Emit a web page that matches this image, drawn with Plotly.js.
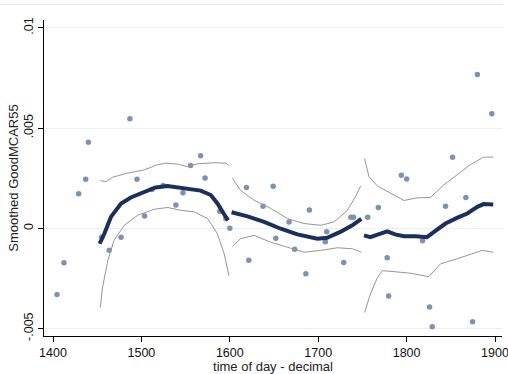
<!DOCTYPE html>
<html>
<head>
<meta charset="utf-8">
<script src="https://cdn.plot.ly/plotly-3.0.1.min.js"></script>
<style>html,body{margin:0;padding:0;background:#fff;}#chart{width:508px;height:374px;}</style>
</head>
<body>
<div id="chart"></div>
<script>
// Observed points (time of day, value)
const obsTime = [1404.5,1412.4,1429,1437,1440,1455,1463.6,1477,1487,1495,1503.6,1512,1524.7,1539,1547,1555.6,1567,1572,1588.7,1595.5,1600,1618.8,1621.5,1637.6,1649,1652,1667,1673.4,1686,1690,1708,1709.6,1728.8,1737,1740,1756,1768,1778,1779.7,1794,1800,1818,1826,1829,1844,1852,1867,1874.6,1880,1896.4];
const obsValue = [-0.0033,-0.00172,0.00172,0.00245,0.00429,-0.00044,-0.00109,-0.00044,0.00546,0.00245,0.00062,0.00194,0.00214,0.00116,0.00178,0.00313,0.00362,0.00251,0.00085,0.00049,0.0,0.00203,-0.00159,0.0011,0.0021,-0.00049,0.00032,-0.00104,-0.00226,0.00092,-0.00067,-0.00017,-0.00171,0.00055,0.00055,0.00055,0.00104,-0.00147,-0.00337,0.00265,0.00246,-0.00062,-0.00392,-0.00491,0.0011,0.00355,0.00154,-0.00466,0.00767,0.00571];

// Segment 1 smoothed fit and CI
const fit1Time = [1452.7,1458,1465.5,1477,1488,1503,1516,1529.6,1548,1567,1578.5,1586,1593,1598];
const fit1Value = [-0.00077,-0.00027,0.00057,0.00124,0.00154,0.00182,0.00204,0.00211,0.002,0.00188,0.00166,0.00124,0.00074,0.0004];
const hi1Time = [1453.5,1460,1467.4,1484,1503,1518,1527.7,1541,1552,1563.5,1582,1595.5,1599];
const hi1Value = [0.00238,0.00233,0.00255,0.00275,0.00291,0.00317,0.00325,0.0032,0.00308,0.00322,0.00327,0.00325,0.00313];
const lo1Time = [1453.5,1456,1462,1469,1480.6,1495.7,1514.5,1529.6,1544.6,1559.7,1574.8,1586,1593.6,1599];
const lo1Value = [-0.00395,-0.00295,-0.00161,-0.0006,0.00015,0.00065,0.00095,0.00104,0.0009,0.00082,0.00049,-0.00027,-0.00127,-0.00236];

// Segment 2
const fit2Time = [1602,1620,1638.8,1657.6,1676.5,1699,1710,1725,1738.6,1748.8];
const fit2Value = [0.0008,0.0006,0.00032,-0.00002,-0.0003,-0.00052,-0.00047,-0.00018,0.00015,0.00047];
const hi2Time = [1603,1612,1627.5,1646,1665,1684,1703,1718,1733,1742,1748];
const hi2Value = [0.0025,0.0019,0.0014,0.001,0.00049,0.00024,0.00015,0.00032,0.0009,0.00157,0.00211];
const lo2Time = [1603,1612,1627.5,1646,1665,1684,1703,1721.7,1738.6,1748.8];
const lo2Value = [-0.0009,-0.00052,-0.00035,-0.00069,-0.00094,-0.00119,-0.0011,-0.00097,-0.00102,-0.00119];

// Segment 3
const fit3Time = [1751.8,1759,1768,1778,1787,1797,1810,1823,1831,1844,1857,1868.6,1880,1887,1898];
const fit3Value = [-0.00035,-0.00044,-0.0003,-0.00015,-0.0003,-0.00039,-0.0004,-0.00044,-0.00018,0.00024,0.00052,0.00074,0.00107,0.00121,0.00119];
const hi3Time = [1752.5,1757.4,1767,1782,1797,1812,1827,1842,1857,1872,1887,1898];
const hi3Value = [0.00347,0.00258,0.00211,0.00174,0.00139,0.00152,0.00154,0.00216,0.00266,0.00317,0.00355,0.00355];
const lo3Time = [1752.5,1759,1767,1772.5,1785.7,1804.5,1825,1838.4,1857,1872,1885.5,1898];
const lo3Value = [-0.0042,-0.00328,-0.00245,-0.00211,-0.00216,-0.00224,-0.00241,-0.00177,-0.00152,-0.0013,-0.0011,-0.00119];

const xTickVals = [1400,1500,1600,1700,1800,1900];
const xTickText = ['1400','1500','1600','1700','1800','1900'];
const yTickVals = [-0.005,0,0.005,0.01];
const yTickText = ['-.005','0','.005','.01'];

const fitColor = '#1b2f5f';
const ciColor = '#959595';
const ptColor = '#7a93b2';

function ci(t, v){return {x:t,y:v,type:'scatter',mode:'lines',line:{color:ciColor,width:1},hoverinfo:'skip',showlegend:false};}
function fit(t, v){return {x:t,y:v,type:'scatter',mode:'lines',line:{color:fitColor,width:4},showlegend:false};}

const data = [
  {x:obsTime,y:obsValue,type:'scatter',mode:'markers',marker:{color:ptColor,size:5.5,symbol:'circle'},showlegend:false},
  ci(hi1Time,hi1Value), ci(lo1Time,lo1Value), fit(fit1Time,fit1Value),
  ci(hi2Time,hi2Value), ci(lo2Time,lo2Value), fit(fit2Time,fit2Value),
  ci(hi3Time,hi3Value), ci(lo3Time,lo3Value), fit(fit3Time,fit3Value)
];

const fam = 'Liberation Sans, Arial, sans-serif';
const layout = {
  width:508, height:374,
  margin:{l:44, r:6, t:20, b:38, pad:0},
  paper_bgcolor:'#fff', plot_bgcolor:'#fff',
  font:{family:fam, size:12.5, color:'#111'},
  showlegend:false,
  xaxis:{
    range:[1389.8,1907.9], tickvals:xTickVals, ticktext:xTickText,
    showline:true, linecolor:'#000', linewidth:1, mirror:false,
    ticks:'outside', ticklen:5, tickcolor:'#000', tickwidth:1,
    ticklabeloverflow:'allow',
    showgrid:false, zeroline:false,
    tickfont:{family:fam, size:12.5, color:'#111'},
    title:{text:'time of day - decimal', font:{family:fam, size:13, color:'#222'}, standoff:2}
  },
  yaxis:{
    range:[-0.00537,0.01039], tickvals:yTickVals, ticktext:yTickText,
    tickangle:-90,
    showline:true, linecolor:'#000', linewidth:1,
    ticks:'outside', ticklen:5, tickcolor:'#000', tickwidth:1,
    ticklabeloverflow:'allow',
    showgrid:true, gridcolor:'#e8f0f2', gridwidth:1, zeroline:false,
    tickfont:{family:fam, size:12.5, color:'#111'},
    title:{text:'Smoothed GoodMCAR55', font:{family:fam, size:13, color:'#222'}, standoff:0}
  },
  shapes:[
    {type:'line', xref:'paper', yref:'paper', x0:-0.1, x1:1.003, y0:1.049, y1:1.049, line:{color:'#e6ecee', width:1}}
  ]
};

Plotly.newPlot('chart', data, layout, {displayModeBar:false, staticPlot:true});
</script>
</body>
</html>
